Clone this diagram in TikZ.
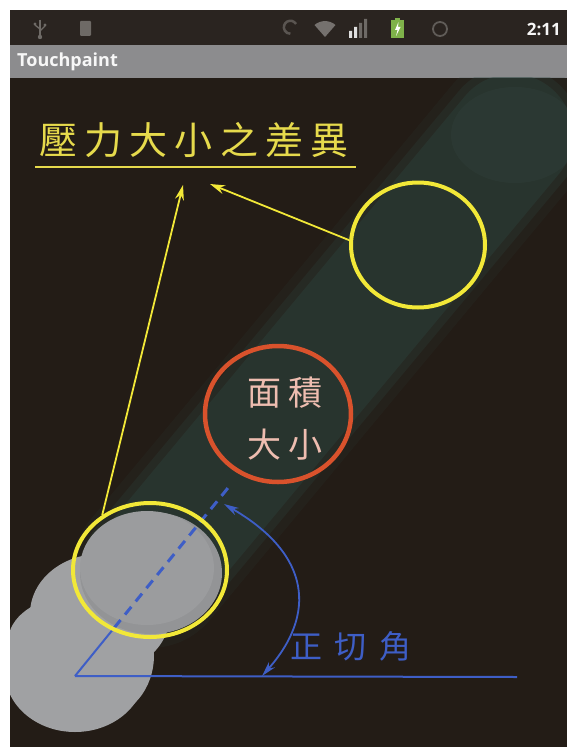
\documentclass[tikz,border=0pt]{standalone}
\usepackage{fontspec}
\usetikzlibrary{shapes.geometric,arrows.meta,calc}
\newfontfamily\uifont{Open Sans}
\newfontfamily\cjktitle[LetterSpace=19]{Noto Sans CJK TC}
\newfontfamily\cjkarea[LetterSpace=22]{Noto Sans CJK TC}
\newfontfamily\cjkangle[LetterSpace=40]{Noto Sans CJK TC}
\definecolor{screenbg}{HTML}{231C16}
\definecolor{statusbg}{HTML}{2A2420}
\definecolor{titlebg}{HTML}{8C8C8E}
\definecolor{icongray}{HTML}{6E6A66}
\definecolor{battgreen}{HTML}{7FB24A}
\definecolor{trail}{HTML}{2F4A44}
\definecolor{blobgray}{HTML}{A0A1A3}
\definecolor{blobdark}{HTML}{939496}
\definecolor{markyellow}{HTML}{F2E838}
\definecolor{titleyellow}{HTML}{E6DA4C}
\definecolor{markred}{HTML}{D9522C}
\definecolor{areapink}{HTML}{EEBDB0}
\definecolor{markblue}{HTML}{3E5EC6}
\tikzset{
  ring/.style={ellipse, draw=markyellow, line width=4pt, inner sep=0pt},
  redring/.style={ellipse, draw=markred, line width=4.5pt, inner sep=0pt},
  yarrow/.style={draw=markyellow, line width=1.8pt, -{Stealth[length=15pt,width=9pt]}},
  bline/.style={draw=markblue, line width=2pt},
  bdash/.style={draw=markblue, line width=3pt, dash pattern=on 10pt off 7pt},
  barrow/.style={draw=markblue, line width=1.8pt,
    {Stealth[length=15pt,width=8pt]}-{Stealth[length=15pt,width=8pt]}},
  trailstroke/.style={draw=trail, line cap=round},
}
\begin{document}
\begin{tikzpicture}[x=1pt,y=-1pt]
\useasboundingbox (0,0) rectangle (567,749);
\fill[white] (0,0) rectangle (567,749);

% phone screen: status bar, title bar, drawing area
\fill[screenbg] (10,78) rectangle (567,747);
\fill[statusbg] (10,10) rectangle (567,45);
\fill[titlebg] (10,45) rectangle (567,78);
\node[anchor=west, inner sep=0pt, text=white!94!gray,
      font=\uifont\bfseries\fontsize{18}{18}\selectfont] (apptitle) at (17,62) {Touchpaint};

% status bar icons
\draw[icongray, line width=1.6pt] (40,20) -- (40,36);
\draw[icongray, line width=1.4pt] (40,29) -- (35,25) (40,31) -- (45,26);
\fill[icongray] (40,37) circle (2.2) (35,24) circle (1.6) (45,25) circle (1.6);
\fill[icongray, rounded corners=1pt] (80,21) rectangle (91,36);
\draw[icongray!70!statusbg, line width=2.5pt] (296,24) arc (-30:-270:6.5);
\fill[icongray!95!white] (325,37) -- (314.5,25) arc (229:311:16) -- cycle;
\fill[white!75!gray] (349,31) rectangle (352,38) (354,27) rectangle (357,38);
\fill[icongray] (359,23) rectangle (362,38) (364,19) rectangle (367,38);
\fill[battgreen] (391,20) rectangle (404,38);
\fill[battgreen] (395,18) rectangle (400,20);
\fill[white] (398.5,22) -- (395,30) -- (397.5,30) -- (396,36) -- (400.5,27) -- (398,27) -- cycle;
\draw[icongray!80!statusbg, line width=1.8pt] (440,29) circle (7);
\node[anchor=east, inner sep=0pt, text=white!92!gray,
      font=\uifont\bfseries\fontsize{17}{17}\selectfont] (clock) at (561,29) {2:11};

% fading touch trail
\begin{scope}
  \clip (10,78) rectangle (567,747);
  \draw[trailstroke, opacity=0.12, line width=156pt] (150,570) -- (512,135);
  \draw[trailstroke, opacity=0.22, line width=138pt] (150,570) -- (512,135);
  \draw[trailstroke, opacity=0.32, line width=122pt] (150,570) -- (512,135);
  \fill[trail!85!white, opacity=0.10] (515,135) ellipse [x radius=64, y radius=48];
  % pressed finger contact
  \fill[blobgray] (75,672) ellipse [x radius=70, y radius=60];
  \fill[blobgray] (100,614) ellipse [x radius=70, y radius=60];
  \fill[blobgray] (70,642) ellipse [x radius=62, y radius=45];
  \fill[blobgray] (102,655) ellipse [x radius=52, y radius=62];
  \fill[blobgray] (128,622) ellipse [x radius=40, y radius=28];
  \fill[blobdark] (151,573) ellipse [x radius=71, y radius=61];
  \fill[blobgray!97!black] (147,568) ellipse [x radius=67, y radius=57];
\end{scope}

% angle construction
\coordinate (O) at (75,676);
\coordinate (H) at (517,677);
\coordinate (D) at (232,483);
\coordinate (S) at ($(O)!0.25!(D)$);
\coordinate (A1) at (224,504);
\coordinate (A2) at (262,676);
\draw[bline] (O) -- (S);
\draw[bdash] (S) -- (D);
\draw[bline] (O) -- (H);
\draw[barrow] (A1) .. controls (312,555) and (316,615) .. (A2);
\node[text=markblue, inner sep=0pt, anchor=west,
      font=\cjkangle\fontsize{32}{32}\selectfont] (anglelabel) at (290,646) {正切角};

% contact markers
\node[ring, minimum width=154pt, minimum height=134pt] (press) at (150,570) {};
\node[ring, minimum width=134pt, minimum height=125pt] (lift) at (418,245) {};
\node[redring, minimum width=146pt, minimum height=136pt] (area) at (278,414) {};
\node[text=areapink, inner sep=0pt, anchor=west, align=left,
      font=\cjkarea\fontsize{34}{52}\selectfont] (arealabel) at (247,419) {面積\\大小};

% heading and its pointers
\node[text=titleyellow, inner sep=0pt, anchor=west,
      font=\cjktitle\fontsize{38}{38}\selectfont] (title) at (39,140) {壓力大小之差異};
\coordinate (ulL) at (35,167);
\coordinate (ulR) at (356,167);
\draw[titleyellow, line width=2.5pt] (ulL) -- (ulR);
\coordinate (t1) at (183,185);
\coordinate (t2) at (210,184);
\draw[yarrow] (press.131) -- (t1);
\draw[yarrow] (lift.176) -- (t2);
\end{tikzpicture}
\end{document}
